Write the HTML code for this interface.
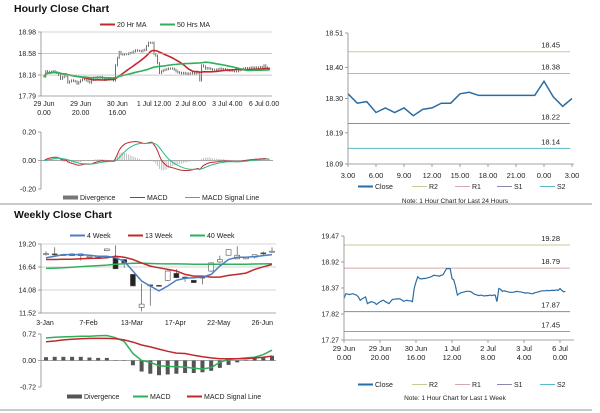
<!DOCTYPE html>
<html><head><meta charset="utf-8"><style>
html,body{margin:0;padding:0;background:#fff;}
svg{display:block;font-family:"Liberation Sans",sans-serif;}
</style></head><body>
<svg id="s" width="600" height="413" viewBox="0 0 600 413" xmlns="http://www.w3.org/2000/svg"></svg>
<script>
// ---- data ----
const hourlyClose=[18.15,18.25,18.24,18.23,18.24,18.25,18.23,18.22,18.18,18.11,
18.14,18.16,18.18,18.04,18.06,18.08,18.07,18.06,18.02,18.05,
18.08,18.10,18.11,18.08,18.06,18.04,18.09,18.13,18.13,18.14,
18.14,18.14,18.12,18.09,18.10,18.11,18.10,18.10,18.08,18.36,
18.50,18.61,18.57,18.56,18.57,18.57,18.58,18.59,18.60,18.62,
18.64,18.63,18.63,18.62,18.64,18.65,18.72,18.78,18.78,18.78,
18.57,18.54,18.40,18.22,18.25,18.27,18.28,18.29,18.30,18.30,
18.30,18.28,18.25,18.23,18.22,18.21,18.22,18.21,18.20,18.21,
18.21,18.22,18.21,18.22,18.22,18.08,18.36,18.34,18.30,18.31,
18.30,18.29,18.28,18.28,18.28,18.29,18.30,18.29,18.29,18.28,
18.27,18.26,18.27,18.26,18.25,18.25,18.27,18.28,18.29,18.30,
18.31,18.31,18.31,18.32,18.31,18.32,18.32,18.32,18.33,18.32,
18.36,18.32,18.29,18.30];
const hourlyTicks=["29 Jun|0.00","29 Jun|20.00","30 Jun|16.00","1 Jul 12.00","2 Jul 8.00","3 Jul 4.00","6 Jul 0.00"];
const weeklyTicks=["29 Jun|0.00","29 Jun|20.00","30 Jun|16.00","1 Jul|12.00","2 Jul|8.00","3 Jul|4.00","6 Jul|0.00"];
const dayClose=[18.315,18.285,18.29,18.255,18.27,18.255,18.27,18.245,18.265,18.27,18.285,18.285,18.315,18.32,18.31,18.31,18.31,18.31,18.31,18.31,18.31,18.355,18.305,18.275,18.30];
const dayTicks=["3.00","6.00","9.00","12.00","15.00","18.00","21.00","0.00","3.00"];
const dayLevels=[18.45,18.38,18.22,18.14];
const weekLevels=[19.28,18.79,17.87,17.45];
const wkOpen=[18.1,18.1,18.0,17.9,17.9,17.7,17.8,18.46,17.66,17.47,15.82,12.14,14.65,14.6,15.16,15.93,15.52,15.16,15.52,16.19,17.2,17.95,17.55,17.55,17.73,18.21,18.39];
const wkClose=[18.13,18.0,18.02,18.1,18.1,17.84,17.84,18.65,16.44,17.1,14.53,12.51,14.6,14.49,16.19,15.45,15.45,14.9,15.45,17.1,17.47,18.57,17.95,17.73,18.0,18.1,18.4];
const wkHigh=[18.4,18.83,18.1,18.15,18.15,17.9,17.9,18.7,19.05,17.5,15.85,14.79,14.71,14.65,16.25,16.4,15.6,15.2,15.6,17.15,17.9,18.6,18.94,17.8,18.05,18.35,18.83];
const wkLow=[17.9,17.8,17.95,17.85,17.36,17.6,17.7,18.4,16.4,16.55,14.5,11.7,12.33,14.45,15.1,15.4,15.0,14.85,14.71,16.1,17.1,17.9,17.5,17.5,17.6,18.0,18.2];
const ma4=[17.66,17.84,18.02,18.02,18.02,17.95,17.84,17.84,17.66,17.29,16.19,15.08,14.53,13.98,14.53,15.16,15.38,15.45,15.52,15.82,16.74,17.47,17.73,17.73,17.80,17.91,18.02];
const ma13=[17.47,17.47,17.5,17.5,17.55,17.6,17.62,17.66,17.84,17.73,17.47,17.10,16.74,16.55,16.37,16.19,15.82,15.63,15.63,15.52,15.52,15.71,15.82,15.96,16.37,16.66,16.92];
const ma40=[16.48,16.52,16.55,16.62,16.68,16.74,16.80,16.85,16.95,17.0,17.05,17.07,17.03,17.0,16.99,16.99,16.97,16.95,16.95,16.95,16.95,16.95,16.95,16.95,16.97,16.99,17.0];
const wkMacd=[0.61,0.63,0.64,0.65,0.66,0.66,0.67,0.68,0.62,0.52,0.19,0.0,-0.05,-0.14,-0.16,-0.17,-0.18,-0.21,-0.23,-0.19,-0.05,0.03,0.05,0.07,0.09,0.16,0.28];
const wkSignal=[0.51,0.53,0.56,0.58,0.59,0.60,0.60,0.60,0.59,0.56,0.50,0.42,0.37,0.31,0.25,0.20,0.19,0.14,0.10,0.07,0.05,0.05,0.05,0.05,0.07,0.09,0.12];
const wkDiv=[0.09,0.10,0.10,0.10,0.10,0.08,0.07,0.07,0.01,-0.01,-0.13,-0.30,-0.36,-0.40,-0.38,-0.36,-0.34,-0.34,-0.32,-0.28,-0.20,-0.12,-0.05,0.01,0.06,0.09,0.13];
const wkTicks=["3-Jan","7-Feb","13-Mar","17-Apr","22-May","26-Jun"];

// ---- helpers ----
const S=document.getElementById('s');const NS='http://www.w3.org/2000/svg';
function mk(tag,at,parent){const e=document.createElementNS(NS,tag);for(const k in at)e.setAttribute(k,at[k]);(parent||S).appendChild(e);return e;}
function txt(x,y,t,anchor,size,weight,fill){const e=mk('text',{x:x,y:y,'text-anchor':anchor||'start','font-size':size||7,'font-weight':weight||'normal',fill:fill||'#222'});e.textContent=t;return e;}
function lin(d0,d1,r0,r1){return v=>r0+(v-d0)/(d1-d0)*(r1-r0);}
function pathOf(arr,X,Y){return arr.map((v,i)=>(i?'L':'M')+X(i).toFixed(1)+' '+Y(v).toFixed(1)).join(' ');}
function sma(a,n){return a.map((v,i)=>{const s=a.slice(Math.max(0,i-n+1),i+1);return s.reduce((p,c)=>p+c,0)/s.length;});}
function ema(a,n){const k=2/(n+1);let e=a[0];return a.map(v=>e=v*k+e*(1-k));}
function legLine(x,y,color,label,w){let l=mk('line',{x1:x,y1:y-2.5,x2:x+15,y2:y-2.5,stroke:color,'stroke-width':w||2});

let t=txt(x+17,y,label);}
function yAxis(x,y0,y1,ticks,Y,grid,gx2){mk('line',{x1:x,y1:y0,x2:x,y2:y1,stroke:'#888','stroke-width':0.8});
ticks.forEach(t=>{const y=Y(t);mk('line',{x1:x-3,y1:y,x2:x,y2:y,stroke:'#888','stroke-width':0.8});
if(grid)mk('line',{x1:x,y1:y,x2:gx2,y2:y,stroke:'#aaa','stroke-width':0.6});
let e=txt(x-5,y+2.5,t.toFixed(2),'end');});}

// titles & separators
let t1=txt(14,12,'Hourly Close Chart','start',10.5,'bold','#111');
let t2=txt(14,218,'Weekly Close Chart','start',10.5,'bold','#111');
mk('line',{x1:0,y1:204,x2:592,y2:204,stroke:'#aaa','stroke-width':1.2});
mk('line',{x1:0,y1:410,x2:592,y2:410,stroke:'#aaa','stroke-width':1.2});

// ---- hourly candles panel ----
{const X=lin(0,120,44,264),Y=lin(17.79,18.98,96,32);
const g=mk('g',{});
mk('line',{x1:41,y1:96,x2:272,y2:96,stroke:'#888','stroke-width':0.8});
yAxis(41,32,96,[17.79,18.18,18.58,18.98],Y,true,272);
hourlyClose.forEach((v,i)=>{const p=i?hourlyClose[i-1]:v;const hi=Math.max(p,v)+0.02,lo=Math.min(p,v)-0.02;
const b=mk('line',{x1:X(i),y1:Y(hi),x2:X(i),y2:Y(lo),stroke:'#333','stroke-width':0.7},g);});
const m20=mk('path',{d:pathOf(sma(hourlyClose,20),X,Y),fill:'none',stroke:'#c0282d','stroke-width':1.6},g);
const m50=mk('path',{d:pathOf(sma(hourlyClose,50),X,Y),fill:'none',stroke:'#2eb05a','stroke-width':1.6},g);
hourlyTicks.forEach((t,i)=>{const x=X(i*20);const p=t.split('|');let e=txt(x,106,p[0],'middle');if(p[1])txt(x,115,p[1],'middle');});
legLine(100,27,'#c0282d','20 Hr MA');legLine(160,27,'#2eb05a','50 Hrs MA');
// macd
const Ym=lin(-0.2,0.2,189,132);
yAxis(41,132,189,[-0.2,0,0.2],Ym,false);
mk('line',{x1:41,y1:Ym(0),x2:273,y2:Ym(0),stroke:'#888','stroke-width':0.8});
const macd=ema(hourlyClose,12).map((v,i)=>v-ema(hourlyClose,26)[i]);const sig=ema(macd,9);
macd.forEach((v,i)=>{const d=v-sig[i];const b=mk('line',{x1:X(i),y1:Ym(0),x2:X(i),y2:Ym(d),stroke:'#aaa','stroke-width':0.7});});
const ml=mk('path',{d:pathOf(macd,X,Ym),fill:'none',stroke:'#c0282d','stroke-width':1});
const sl=mk('path',{d:pathOf(sig,X,Ym),fill:'none',stroke:'#2eb888','stroke-width':1});
legLine(63,200,'#777','Divergence',4);legLine(130,200,'#c0282d','MACD',1);legLine(185,200,'#2eb888','MACD Signal Line',1);}

// ---- level chart helper ----
function levelChart(name,data,xMax,x0,x1,yMin,yMax,yTop,yBot,ticks,levels,xLabels,xStep,labY,legY,note,noteY,lineW){
const X=lin(0,xMax,x0,x1),Y=lin(yMin,yMax,yBot,yTop);
const g=mk('g',{});
mk('line',{x1:x0,y1:yBot,x2:574,y2:yBot,stroke:'#888','stroke-width':0.8},g);
yAxis(x0,yTop,yBot,ticks,Y,false);
const cols=['#c8c89a','#d8a8a8','#8a88b0','#5ab8c8'],nm=['r2','r1','s1','s2'];
levels.forEach((v,i)=>{const l=mk('line',{x1:x0,y1:Y(v),x2:570,y2:Y(v),stroke:cols[i],'stroke-width':1},g);
let e=txt(560,Y(v)-4,v.toFixed(2),'end',7.5);});
const p=mk('path',{d:pathOf(data,X,Y),fill:'none',stroke:'#2b6ca3','stroke-width':lineW},g);
xLabels.forEach((t,i)=>{const x=X(i*xStep);mk('line',{x1:x,y1:yBot,x2:x,y2:yBot+3,stroke:'#888','stroke-width':0.8});const q=t.split('|');let e=txt(x,labY,q[0],'middle',7.5);if(q[1])txt(x,labY+9,q[1],'middle',7.5);});
legLine(358,legY,'#2b6ca3','Close');legLine(412,legY,'#c8c89a','R2',1);legLine(455,legY,'#d8a8a8','R1',1);legLine(497,legY,'#8a88b0','S1',1);legLine(540,legY,'#5ab8c8','S2',1);
let n=txt(455,noteY,note,'middle',6.5);}
levelChart('day-close-chart',dayClose,24,348,572,18.09,18.51,33,164,[18.09,18.19,18.30,18.40,18.51],dayLevels,dayTicks,3,178,189,'Note: 1 Hour Chart for Last 24 Hours',203,1.5);
levelChart('week-close-chart',hourlyClose,120,344,560,17.27,19.47,236,340,[17.27,17.82,18.37,18.92,19.47],weekLevels,weeklyTicks,20,351,387,'Note: 1 Hour Chart for Last 1 Week',400,1.2);

// ---- weekly candles ----
{const X=lin(0,26,46,272),Y=lin(11.52,19.20,313,244);
mk('line',{x1:41,y1:313,x2:276,y2:313,stroke:'#888','stroke-width':0.8});
yAxis(41,244,313,[11.52,14.08,16.64,19.20],Y,true,276);
wkOpen.forEach((o,i)=>{const c=wkClose[i];const x=X(i);
const w=mk('line',{x1:x,y1:Y(wkHigh[i]),x2:x,y2:Y(wkLow[i]),stroke:'#666','stroke-width':0.8});
const top=Math.max(o,c),bot=Math.min(o,c);const r=mk('rect',{x:x-2.5,y:Y(top),width:5,height:Math.max(1,Y(bot)-Y(top)),fill:c>=o?'#fff':'#222',stroke:'#555','stroke-width':0.6});});
[[ma40,'#2eb05a','ma-40-week'],[ma13,'#c0282d','ma-13-week'],[ma4,'#4a7fc0','ma-4-week']].forEach(a=>{const p=mk('path',{d:pathOf(a[0],X,Y),fill:'none',stroke:a[1],'stroke-width':1.5});});
wkTicks.forEach((t,i)=>{let e=txt(X(i*5)-1,325,t,'middle');});
legLine(70,238,'#4a7fc0','4 Week');legLine(128,238,'#c0282d','13 Week');legLine(190,238,'#2eb05a','40 Week');
const Ym=lin(-0.72,0.72,387,334);
yAxis(41,334,387,[-0.72,0,0.72],Ym,false);
mk('line',{x1:41,y1:Ym(0),x2:276,y2:Ym(0),stroke:'#888','stroke-width':0.8});
wkDiv.forEach((d,i)=>{const r=mk('rect',{x:X(i)-2,y:Math.min(Ym(0),Ym(d)),width:4,height:Math.abs(Ym(d)-Ym(0)),fill:'#555'});});
const ml=mk('path',{d:pathOf(wkMacd,X,Ym),fill:'none',stroke:'#2eb05a','stroke-width':1.5});
const sl=mk('path',{d:pathOf(wkSignal,X,Ym),fill:'none',stroke:'#c0282d','stroke-width':1.5});
legLine(67,399,'#555','Divergence',4);legLine(133,399,'#2eb05a','MACD');legLine(187,399,'#c0282d','MACD Signal Line');}
</script>
</body></html>
